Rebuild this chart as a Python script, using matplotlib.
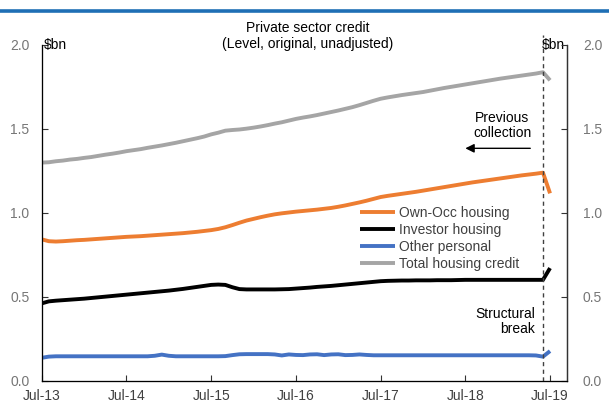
import numpy as np
import matplotlib
matplotlib.use("Agg")
import matplotlib.pyplot as plt
from matplotlib.lines import Line2D

plt.rcParams['font.family'] = ['Liberation Sans', 'DejaVu Sans']
plt.rcParams['font.size'] = 10

# monthly data, Jul-13 to Jul-19 ($bn)
tick_labels = ['Jul-13', 'Jul-14', 'Jul-15', 'Jul-16', 'Jul-17', 'Jul-18', 'Jul-19']

own_occ = [0.843, 0.832, 0.830, 0.832, 0.835, 0.838, 0.840, 0.843, 0.846, 0.849, 0.852, 0.855,
           0.858, 0.860, 0.862, 0.865, 0.868, 0.871, 0.874, 0.877, 0.880, 0.884, 0.888, 0.893,
           0.898, 0.905, 0.915, 0.928, 0.942, 0.955, 0.965, 0.975, 0.984, 0.992, 0.998, 1.003,
           1.008, 1.012, 1.016, 1.020, 1.025, 1.030, 1.037, 1.045, 1.054, 1.063, 1.073, 1.084,
           1.095, 1.102, 1.108, 1.114, 1.120, 1.126, 1.133, 1.140, 1.147, 1.154, 1.161, 1.168,
           1.175, 1.182, 1.188, 1.194, 1.200, 1.206, 1.212, 1.218, 1.224, 1.229, 1.234, 1.240, 1.117]

investor = [0.462, 0.474, 0.478, 0.481, 0.484, 0.487, 0.490, 0.494, 0.498, 0.502, 0.506, 0.510,
            0.514, 0.518, 0.522, 0.526, 0.530, 0.534, 0.538, 0.543, 0.548, 0.554, 0.560, 0.566,
            0.572, 0.574, 0.572, 0.558, 0.547, 0.545, 0.545, 0.545, 0.545, 0.545, 0.546, 0.547,
            0.550, 0.553, 0.556, 0.560, 0.563, 0.566, 0.570, 0.574, 0.578, 0.582, 0.586, 0.590,
            0.594, 0.596, 0.597, 0.598, 0.598, 0.599, 0.599, 0.599, 0.600, 0.600, 0.600, 0.601,
            0.602, 0.602, 0.602, 0.602, 0.602, 0.602, 0.602, 0.602, 0.602, 0.602, 0.602, 0.602, 0.672]

other_personal = [0.138, 0.145, 0.147, 0.147, 0.147, 0.147, 0.147, 0.147, 0.147, 0.147, 0.147, 0.147,
                  0.147, 0.147, 0.147, 0.147, 0.150, 0.157, 0.150, 0.147, 0.147, 0.147, 0.147, 0.147,
                  0.147, 0.147, 0.148, 0.154, 0.159, 0.160, 0.160, 0.160, 0.160, 0.158, 0.152, 0.158,
                  0.155, 0.154, 0.158, 0.159, 0.154, 0.158, 0.159, 0.154, 0.155, 0.158, 0.155, 0.153,
                  0.153, 0.153, 0.153, 0.153, 0.153, 0.153, 0.153, 0.153, 0.153, 0.153, 0.153, 0.153,
                  0.153, 0.153, 0.153, 0.153, 0.153, 0.153, 0.153, 0.153, 0.153, 0.153, 0.152, 0.145, 0.178]

total_housing = [1.300, 1.302, 1.308, 1.312, 1.318, 1.322, 1.328, 1.333, 1.340, 1.347, 1.353, 1.360,
                 1.368, 1.374, 1.380, 1.388, 1.395, 1.402, 1.410, 1.418, 1.427, 1.436, 1.445, 1.455,
                 1.468, 1.478, 1.490, 1.494, 1.497, 1.502, 1.508, 1.515, 1.523, 1.532, 1.540, 1.550,
                 1.560, 1.568, 1.575, 1.583, 1.592, 1.601, 1.610, 1.620, 1.630, 1.642, 1.655, 1.668,
                 1.680, 1.688, 1.695, 1.702, 1.708, 1.714, 1.720, 1.728, 1.736, 1.744, 1.751, 1.758,
                 1.765, 1.772, 1.779, 1.786, 1.793, 1.800, 1.806, 1.812, 1.818, 1.824, 1.830, 1.838, 1.790]

months = np.arange(len(own_occ))
break_month = 71  # Jun-19

fig = plt.figure(figsize=(6.09, 4.05), dpi=100)
ax = fig.add_axes([0.0686, 0.0593, 0.8624, 0.8296])

lw = 2.8
ax.plot(months, own_occ, color='#ED7D31', lw=lw, label='Own-Occ housing', solid_capstyle='butt')
ax.plot(months, investor, color='#000000', lw=lw, label='Investor housing', solid_capstyle='butt')
ax.plot(months, other_personal, color='#4472C4', lw=lw, label='Other personal', solid_capstyle='butt')
ax.plot(months, total_housing, color='#A5A5A5', lw=lw, label='Total housing credit', solid_capstyle='butt')

ax.set_xlim(0, 74.4)
ax.set_ylim(0, 2.0)
ax.set_xticks(np.arange(0, 73, 12))
ax.set_xticklabels(tick_labels)
ax.set_yticks([0, 0.5, 1.0, 1.5, 2.0])
ax.set_yticklabels(['0.0', '0.5', '1.0', '1.5', '2.0'])
ax.tick_params(axis='x', direction='in', length=4, pad=6, labelcolor='#404040', color='#333333')
ax.tick_params(axis='y', direction='in', length=4, pad=9, labelcolor='#767676', color='#333333')
ax.spines['top'].set_visible(False)
for s in ['left', 'right', 'bottom']:
    ax.spines[s].set_color('#333333')
    ax.spines[s].set_linewidth(0.9)

ax2 = ax.twinx()
ax2.set_ylim(0, 2.0)
ax2.set_yticks([0, 0.5, 1.0, 1.5, 2.0])
ax2.set_yticklabels(['0.0', '0.5', '1.0', '1.5', '2.0'])
ax2.tick_params(axis='y', direction='in', length=4, pad=11.5, labelcolor='#767676', color='#333333')
ax2.spines['top'].set_visible(False)
ax2.spines['right'].set_color('#333333')
ax2.spines['right'].set_linewidth(0.9)

# structural break
ax.axvline(break_month, ymin=0, ymax=1.03, color='#404040', lw=1, ls=(0, (3, 2.5)), clip_on=False)

ax.text(0.004, 1.0, r'\$bn', transform=ax.transAxes, ha='left', va='center', color='black')
ax.text(0.996, 1.0, r'\$bn', transform=ax.transAxes, ha='right', va='center', color='black')

ax.text(65.2, 1.521, 'Previous\ncollection', ha='center', va='center', linespacing=1.05)
ax.annotate('', xy=(60.0, 1.385), xytext=(69.2, 1.385),
            arrowprops=dict(arrowstyle='-|>', color='black', lw=1, mutation_scale=13,
                            shrinkA=0, shrinkB=0))
ax.text(69.85, 0.354, 'Structural\nbreak', ha='right', va='center', linespacing=1.05)

leg = ax.legend(loc='upper left', bbox_to_anchor=(0.606, 0.52), frameon=False,
                borderaxespad=0, borderpad=0, labelspacing=0.2, handlelength=2.5,
                handletextpad=0.3)
for t in leg.get_texts():
    t.set_color('#404040')

fig.text(308 / 609, 1 - 28 / 405, 'Private sector credit', ha='center', va='center')
fig.text(308 / 609, 1 - 44 / 405, '(Level, original, unadjusted)', ha='center', va='center')

# blue rule along the top
fig.add_artist(Line2D([0, 1], [1 - 10.5 / 405, 1 - 10.5 / 405], transform=fig.transFigure,
                      color='#1F6FB5', lw=2.6))

fig.savefig('out.png', dpi=100)
